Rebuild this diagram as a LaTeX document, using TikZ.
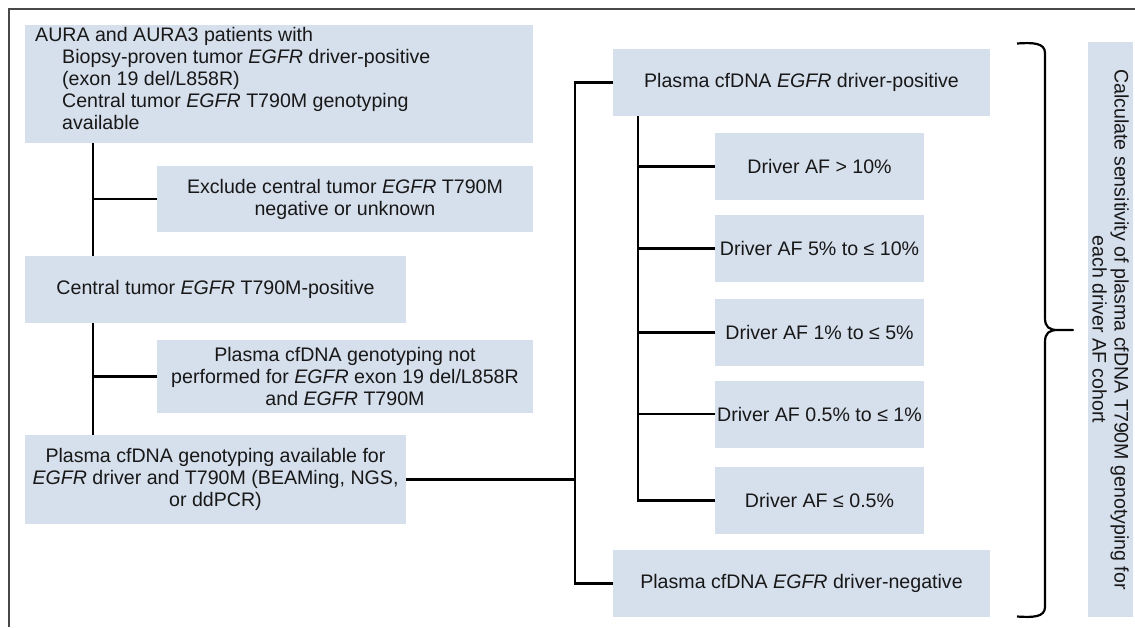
\documentclass[tikz,border=0pt]{standalone}
\usepackage{fontspec}
\setmainfont{Liberation Sans}
\definecolor{boxfill}{RGB}{214,223,236}
\definecolor{ink}{RGB}{24,24,24}
\definecolor{framegray}{RGB}{72,72,72}
\tikzset{
  txt/.style={text=ink, font=\fontsize{19.6}{22}\selectfont},
  box/.style={txt, fill=boxfill, inner sep=0pt, align=center},
  widebox/.style={box, minimum width=381pt, minimum height=67pt},
  afbox/.style={box, minimum width=209pt, minimum height=67pt},
  cohortbox/.style={box, minimum width=377pt, minimum height=67pt},
  link/.style={draw=black, line width=2.4pt},
}
\newcommand{\eg}{\textit{EGFR}}
\begin{document}
\begin{tikzpicture}[x=1pt,y=-1pt]
\useasboundingbox (0,0) rectangle (1135,627);
\fill[white] (0,0) rectangle (1135,627);
% outer frame (top and left edges)
\draw[framegray, line width=2pt] (9,627) -- (9,9) -- (1135,9);

% left column
\node[box, minimum width=508pt, minimum height=118pt] (A) at (279,84) {};
\node[txt, anchor=north west, align=left, inner sep=0pt] (Atext) at (35,27.5)
  {AURA and AURA3 patients with\\
   \hspace*{27pt}Biopsy-proven tumor \eg{} driver-positive\\
   \hspace*{27pt}(exon 19 del/L858R)\\
   \hspace*{27pt}Central tumor \eg{} T790M genotyping\\
   \hspace*{27pt}available};
\node[box, minimum width=376pt, minimum height=66pt] (B) at (345,199)
  {Exclude central tumor \eg{} T790M\\negative or unknown};
\node[widebox] (C) at (215.5,289.5) {Central tumor \eg{} T790M-positive};
\node[box, minimum width=376pt, minimum height=73pt] (D) at (345,376.5)
  {Plasma cfDNA genotyping not\\performed for \eg{} exon 19 del/L858R\\and \eg{} T790M};
\node[widebox, minimum height=89pt] (E) at (215.5,479.5)
  {Plasma cfDNA genotyping available for\\\eg{} driver and T790M (BEAMing, NGS,\\or ddPCR)};

% right column
\node[cohortbox] (F) at (801.5,82.5) {Plasma cfDNA \eg{} driver-positive};
\node[afbox] (G1) at (819.5,166.5) {Driver AF > 10\%};
\node[afbox] (G2) at (819.5,248.5) {Driver AF 5\% to ≤ 10\%};
\node[afbox] (G3) at (819.5,332.5) {Driver AF 1\% to ≤ 5\%};
\node[afbox] (G4) at (819.5,414) {Driver AF 0.5\% to ≤ 1\%};
\node[afbox] (G5) at (819.5,500.5) {Driver AF ≤ 0.5\%};
\node[cohortbox] (H) at (801.5,583.5) {Plasma cfDNA \eg{} driver-negative};

% result box, text running top to bottom
\node[box, rotate=-90, minimum width=575pt, minimum height=45pt] (R) at (1110.5,329.5)
  {Calculate sensitivity of plasma cfDNA T790M genotyping for\\each driver AF cohort};

% trunk lines
\coordinate (t1) at (93,0);
\coordinate (t2) at (575,0);
\coordinate (t3) at (638,0);

\draw[link] (t1 |- A.south) -- (t1 |- C.north);
\draw[link] (t1 |- B.west) -- (B.west);
\draw[link] (t1 |- C.south) -- (t1 |- E.north);
\draw[link] (t1 |- D.west) -- (D.west);
\draw[link] (E.east) -- (t2 |- E.east);
\draw[link] (F.west) -- (t2 |- F.west) -- (t2 |- H.west) -- (H.west);
\draw[link] (t3 |- F.south) -- (t3 |- G5.west) -- (G5.west);
\foreach \g in {G1,G2,G3,G4}
  \draw[link] (t3 |- \g.west) -- (\g.west);

% brace gathering the cohorts
\draw[line width=2.2pt, line join=round]
  (1017,43.5) .. controls (1032,42.5) and (1045,42.5) .. (1045,53)
  -- (1045,318) .. controls (1045,327) and (1049,330) .. (1058,330)
  -- (1073,330) -- (1058,330)
  .. controls (1049,330) and (1045,333) .. (1045,342)
  -- (1045,607) .. controls (1045,617.5) and (1032,617.5) .. (1017,616.5);
\end{tikzpicture}
\end{document}
